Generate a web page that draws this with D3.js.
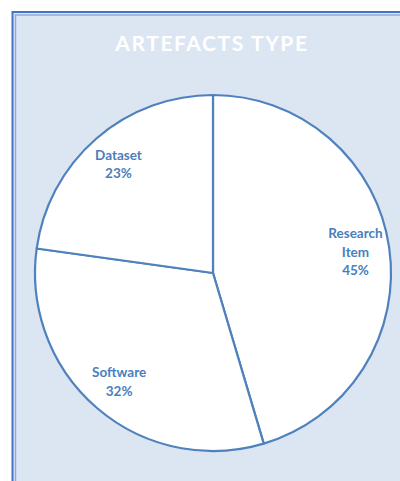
<!DOCTYPE html>
<html>
<head>
<meta charset="utf-8">
<script src="https://cdn.jsdelivr.net/npm/d3@7"></script>
<style>
  body { margin: 0; background: #fff; }
  svg { display: block; }
</style>
</head>
<body>
<script>
// values
const categories = ["Research Item", "Software", "Dataset"];
const labelLines = [["Research", "Item"], ["Software"], ["Dataset"]];
const shares = [45.4, 31.8, 22.8];
const title = "ARTEFACTS TYPE";

const width = 400, height = 481;
const cx = 213, cy = 273, radius = 178;

const svg = d3.select("body").append("svg")
  .attr("width", width)
  .attr("height", height);

// panel with double border (right / bottom edges fall outside the window)
svg.append("rect")
  .attr("x", 12.5).attr("y", 12)
  .attr("width", 420).attr("height", 500)
  .style("fill", "#dce6f2")
  .style("stroke", "#4472c4")
  .style("stroke-width", "2px");
svg.append("rect")
  .attr("x", 15.5).attr("y", 15)
  .attr("width", 420).attr("height", 500)
  .style("fill", "none")
  .style("stroke", "#8eaadb")
  .style("stroke-width", "1.5px");

svg.append("text")
  .attr("x", 212).attr("y", 51)
  .attr("text-anchor", "middle")
  .style("font-family", "Lato, 'Open Sans', sans-serif")
  .style("font-weight", "bold")
  .style("font-size", "21px")
  .style("letter-spacing", "1.6px")
  .style("fill", "#ffffff")
  .text(title);

const data = categories.map((c, i) => ({ name: c, lines: labelLines[i], value: shares[i] }));

const pie = d3.pie().sort(null).value(d => d.value);
const arc = d3.arc().innerRadius(0).outerRadius(radius);
const labelArc = d3.arc().innerRadius(144).outerRadius(144);
const total = d3.sum(shares);

const g = svg.append("g").attr("transform", `translate(${cx},${cy})`);

g.selectAll("path.slice")
  .data(pie(data))
  .enter()
  .append("path")
  .attr("class", "slice")
  .attr("d", arc)
  .style("fill", "#ffffff")
  .style("stroke", "#4f81bd")
  .style("stroke-width", "2.2px")
  .style("stroke-linejoin", "round");

g.selectAll("text.lbl")
  .data(pie(data))
  .enter()
  .append("text")
  .attr("class", "lbl")
  .attr("text-anchor", "middle")
  .style("font-family", "Lato, 'Open Sans', sans-serif")
  .style("font-weight", "bold")
  .style("font-size", "13.5px")
  .style("fill", "#4a7ebb")
  .each(function(d) {
    const [x, y] = labelArc.centroid(d);
    const lines = d.data.lines.concat([Math.round(d.data.value / total * 100) + "%"]);
    const lh = 18.5;
    const y0 = y - (lines.length - 1) * lh / 2 + 4.5;
    lines.forEach((t, i) => {
      d3.select(this).append("tspan")
        .attr("x", x)
        .attr("y", y0 + i * lh)
        .text(t);
    });
  });
</script>
</body>
</html>
